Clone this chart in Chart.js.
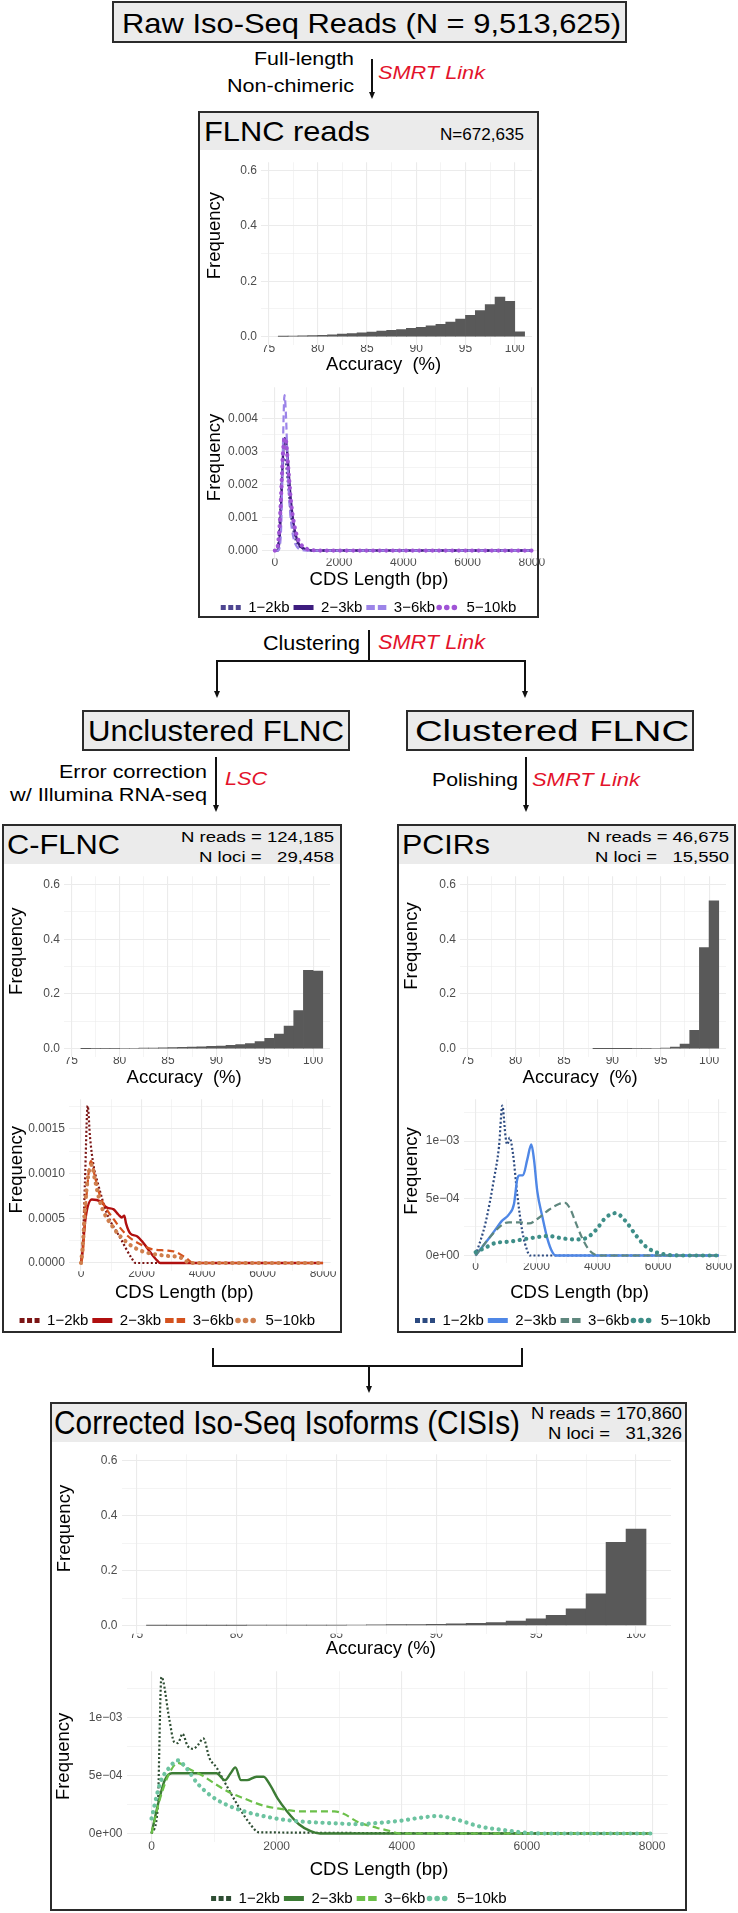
<!DOCTYPE html>
<html><head><meta charset="utf-8">
<script src="https://cdn.jsdelivr.net/npm/chart.js@4.4.1/dist/chart.umd.min.js"></script>
<style>
html,body{margin:0;padding:0;background:#fff}
body{position:relative;width:738px;height:1913px;overflow:hidden;font-family:'Liberation Sans',Arial,Helvetica,sans-serif}
.box{position:absolute;box-sizing:border-box;border:2px solid #2b2b2b;background:#fff}
.gbox{background:#ebebeb}
.strip{position:absolute;left:0;right:0;top:0;background:#ebebeb}
.t{position:absolute;white-space:pre;line-height:1;transform-origin:0 50%;color:#000}
.red{color:#e3132b;font-style:italic}
.ln{position:absolute;background:#111}
.ah{position:absolute;width:0;height:0;border-left:3.5px solid transparent;border-right:3.5px solid transparent;border-top:7px solid #111}
canvas{position:absolute}
</style></head><body>
<script>
// ---------------- DATA ----------------
const ACC_TICKS = [75, 80, 85, 90, 95, 100];
const ACC_MINOR = [77.5, 82.5, 87.5, 92.5, 97.5];
const ACC_LABELS = ['75', '80', '85', '90', '95', '100'];
const FREQ_TICKS = [0, 0.2, 0.4, 0.6];
const FREQ_MINOR = [0.1, 0.3, 0.5];
const FREQ_LABELS = ['0.0', '0.2', '0.4', '0.6'];
const CDS_TICKS = [0, 2000, 4000, 6000, 8000];
const CDS_MINOR = [1000, 3000, 5000, 7000];
const CDS_LABELS = ['0', '2000', '4000', '6000', '8000'];
const LEN_GROUPS = ['1\u22122kb', '2\u22123kb', '3\u22126kb', '5\u221210kb'];

// FLNC accuracy histogram
const FLNC_ACC_BINS = [76.5, 77.5, 78.5, 79.5, 80.5, 81.5, 82.5, 83.5, 84.5, 85.5, 86.5, 87.5, 88.5, 89.5, 90.5, 91.5, 92.5, 93.5, 94.5, 95.5, 96.5, 97.5, 98.5, 99.5, 100.5];
const FLNC_ACC_FREQ = [0.001, 0.002, 0.003, 0.004, 0.005, 0.007, 0.009, 0.011, 0.014, 0.017, 0.020, 0.023, 0.026, 0.030, 0.034, 0.039, 0.045, 0.053, 0.064, 0.077, 0.094, 0.116, 0.143, 0.128, 0.018];
// FLNC CDS density
const FLNC_LEN_X = [0, 50, 100, 150, 200, 250, 300, 350, 400, 450, 500, 600, 700, 800, 1000, 1200, 1500, 8000];
const FLNC_LEN_1_2 = [0, 0, 0.0002, 0.0009, 0.0019, 0.0026, 0.0028, 0.0026, 0.0021, 0.0016, 0.0011, 0.0005, 0.0002, 0.0001, 0.00002, 0, 0, 0];
const FLNC_LEN_2_3 = [0, 0, 0, 0.0004, 0.0015, 0.0028, 0.0034, 0.0033, 0.0028, 0.0021, 0.0015, 0.0007, 0.0003, 0.00012, 0.00003, 0, 0, 0];
const FLNC_LEN_3_6 = [0, 0, 0, 0.0001, 0.0008, 0.0031, 0.0047, 0.0040, 0.0025, 0.0015, 0.0009, 0.0003, 0.0001, 0.00003, 0, 0, 0, 0];
const FLNC_LEN_5_10 = [0, 0, 0.0002, 0.0008, 0.0018, 0.0029, 0.0034, 0.0033, 0.0027, 0.0021, 0.0015, 0.0008, 0.0004, 0.0002, 0.00005, 0.00001, 0, 0];
const FLNC_Y_TICKS = [0, 0.001, 0.002, 0.003, 0.004];
const FLNC_Y_MINOR = [0.0005, 0.0015, 0.0025, 0.0035, 0.0045];
const FLNC_Y_LABELS = ['0.000', '0.001', '0.002', '0.003', '0.004'];

// C-FLNC accuracy histogram
const CFLNC_ACC_BINS = [76.5, 77.5, 78.5, 79.5, 80.5, 81.5, 82.5, 83.5, 84.5, 85.5, 86.5, 87.5, 88.5, 89.5, 90.5, 91.5, 92.5, 93.5, 94.5, 95.5, 96.5, 97.5, 98.5, 99.5, 100.5];
const CFLNC_ACC_FREQ = [0.0008, 0.001, 0.0012, 0.0015, 0.0018, 0.002, 0.0025, 0.003, 0.0035, 0.004, 0.005, 0.006, 0.007, 0.009, 0.010, 0.0125, 0.015, 0.019, 0.026, 0.038, 0.054, 0.083, 0.139, 0.286, 0.284];
// C-FLNC CDS density
const CFLNC_1_2_X = [0, 60, 130, 220, 300, 420, 550, 850, 1300, 1680, 1800, 8000];
const CFLNC_1_2_Y = [0, 0.0002, 0.0009, 0.00176, 0.0014, 0.00108, 0.0009, 0.00056, 0.00028, 0.00005, 0, 0];
const CFLNC_2_3_X = [0, 40, 150, 360, 640, 860, 1080, 1240, 1350, 1430, 1490, 1630, 1850, 2070, 2290, 2510, 2620, 8000];
const CFLNC_2_3_Y = [0, 0.0001, 0.0005, 0.00071, 0.00069, 0.00062, 0.0006, 0.00054, 0.00051, 0.00053, 0.00044, 0.00033, 0.0003, 0.00022, 0.00012, 0.00003, 0, 0];
const CFLNC_3_6_X = [0, 60, 150, 250, 330, 450, 640, 1080, 1520, 1960, 2400, 2840, 3160, 3490, 3710, 8000];
const CFLNC_3_6_Y = [0, 0.0001, 0.0006, 0.001, 0.00114, 0.00098, 0.00074, 0.00049, 0.00031, 0.00021, 0.00015, 0.00014, 0.00012, 0.00005, 0, 0];
const CFLNC_5_10_X = [0, 60, 150, 250, 360, 450, 640, 1080, 1520, 1960, 2400, 2840, 3300, 3600, 8000];
const CFLNC_5_10_Y = [0, 0.0002, 0.0007, 0.001, 0.0011, 0.00095, 0.00067, 0.00039, 0.00023, 0.00014, 0.0001, 0.00008, 0.00006, 0, 0];
const CFLNC_Y_TICKS = [0, 0.0005, 0.001, 0.0015];
const CFLNC_Y_MINOR = [0.00025, 0.00075, 0.00125, 0.00175];
const CFLNC_Y_LABELS = ['0.0000', '0.0005', '0.0010', '0.0015'];

// PCIRs accuracy histogram
const PCIR_ACC_BINS = [88.5, 89.5, 90.5, 91.5, 92.5, 93.5, 94.5, 95.5, 96.5, 97.5, 98.5, 99.5, 100.5];
const PCIR_ACC_FREQ = [0.0004, 0.0005, 0.0006, 0.0007, 0.0009, 0.0012, 0.0018, 0.003, 0.006, 0.017, 0.067, 0.369, 0.540];
// PCIRs CDS density
const PCIR_1_2_X = [0, 329, 603, 767, 877, 986, 1041, 1118, 1227, 1370, 1534, 1699, 1775, 8000];
const PCIR_1_2_Y = [0, 0.00029, 0.00067, 0.00095, 0.00131, 0.00103, 0.00097, 0.00103, 0.00089, 0.00053, 0.00021, 0.00004, 0, 0];
const PCIR_2_3_X = [0, 438, 658, 855, 1096, 1260, 1370, 1447, 1556, 1699, 1830, 1918, 2027, 2192, 2356, 2521, 2630, 8000];
const PCIR_2_3_Y = [0, 0.00015, 0.00023, 0.0003, 0.00036, 0.00045, 0.00067, 0.0007, 0.0007, 0.00084, 0.00097, 0.00084, 0.00056, 0.00034, 0.00015, 0.00003, 0, 0];
const PCIR_3_6_X = [0, 438, 877, 1096, 1425, 1753, 2082, 2411, 2740, 2937, 3123, 3288, 3507, 3726, 3945, 4100, 8000];
const PCIR_3_6_Y = [0, 0.00015, 0.00027, 0.00029, 0.00029, 0.00028, 0.00033, 0.0004, 0.00045, 0.00046, 0.0004, 0.00029, 0.00015, 0.00005, 0.000005, 0, 0];
const PCIR_5_10_X = [0, 329, 658, 1096, 1753, 2411, 2849, 3288, 3616, 3945, 4274, 4603, 4932, 5260, 5589, 5918, 6356, 6800, 8000];
const PCIR_5_10_Y = [0.00003, 0.00007, 0.00011, 0.00012, 0.00015, 0.00017, 0.00015, 0.00014, 0.00015, 0.00022, 0.00033, 0.00037, 0.0003, 0.00018, 0.00008, 0.00003, 0.000005, 0, 0];
const SCI_Y_TICKS = [0, 0.0005, 0.001];
const SCI_Y_MINOR = [0.00025, 0.00075, 0.00125];
const SCI_Y_LABELS = ['0e+00', '5e\u221204', '1e\u221203'];

// CISIs accuracy histogram
const CISI_ACC_BINS = [76, 77, 78, 79, 80, 81, 82, 83, 84, 85, 86, 87, 88, 89, 90, 91, 92, 93, 94, 95, 96, 97, 98, 99, 100];
const CISI_ACC_FREQ = [0.0003, 0.0004, 0.0005, 0.0006, 0.0007, 0.0008, 0.001, 0.0012, 0.0014, 0.0017, 0.002, 0.0025, 0.003, 0.0035, 0.0045, 0.006, 0.008, 0.011, 0.016, 0.024, 0.037, 0.061, 0.115, 0.303, 0.351];
// CISIs CDS density
const CISI_1_2_X = [0, 98, 158, 286, 361, 421, 497, 572, 662, 737, 828, 926, 1038, 1151, 1264, 1415, 1565, 1716, 8000];
const CISI_1_2_Y = [0, 0.00021, 0.00135, 0.00098, 0.00079, 0.00078, 0.00086, 0.00076, 0.00073, 0.00076, 0.00082, 0.00065, 0.00057, 0.00046, 0.00035, 0.00021, 0.00009, 0.00001, 0];
const CISI_2_3_X = [0, 98, 211, 324, 587, 888, 1038, 1174, 1264, 1340, 1430, 1527, 1678, 1791, 1904, 2017, 2167, 2355, 2543, 2694, 8000];
const CISI_2_3_Y = [0, 0.00024, 0.00046, 0.00052, 0.00052, 0.00052, 0.00052, 0.00046, 0.00052, 0.00057, 0.00046, 0.00046, 0.00049, 0.00049, 0.00041, 0.0003, 0.00019, 0.00008, 0.00002, 0, 0];
const CISI_3_6_X = [0, 135, 286, 421, 587, 813, 1038, 1264, 1490, 1791, 2092, 2393, 2694, 2919, 3070, 3296, 3597, 3822, 3973, 8000];
const CISI_3_6_Y = [0, 0.0003, 0.00052, 0.00061, 0.00056, 0.0005, 0.00042, 0.00035, 0.0003, 0.00024, 0.00021, 0.00019, 0.00019, 0.00019, 0.00017, 0.0001, 0.00005, 0.00002, 0, 0];
const CISI_5_10_X = [0, 135, 286, 421, 549, 737, 963, 1189, 1490, 1791, 2092, 2468, 2844, 3296, 3597, 3973, 4349, 4575, 4876, 5252, 5628, 6005, 6230, 8000];
const CISI_5_10_Y = [0.00013, 0.00043, 0.00057, 0.00063, 0.00057, 0.00043, 0.00032, 0.00025, 0.00019, 0.00015, 0.00012, 0.0001, 0.00009, 0.00008, 0.00009, 0.00011, 0.00014, 0.00015, 0.00012, 0.00006, 0.00003, 0.000005, 0, 0];

// ---------------- STYLE ----------------
const FONT = "'Liberation Sans', Arial, Helvetica, sans-serif";
Chart.defaults.font.family = FONT;
const TICK_FONT = 12;
const TITLE_FONT = 18.5;
const LEG_FONT = 15, LEG_PAD = 4, LEG_KEY = 20;
const PURPLES = ['#4e4691', '#3d1c7e', '#9c84e8', '#a054d6'];
const REDS = ['#7b1515', '#b00f0f', '#d4521e', '#cf7f4e'];
const BLUES = ['#2c4a80', '#4f87e6', '#5f877e', '#3e8e88'];
const GREENS = ['#2e4d33', '#3c7c35', '#6cc04a', '#6cc3a0'];
const STY = [
  {w: 2.2, dash: [2, 2.2], cap: 'butt', lw: 5, ldash: [5, 2.5], lcap: 'butt'},
  {w: 2.4, dash: [], cap: 'butt', lw: 5, ldash: [], lcap: 'butt'},
  {w: 2.2, dash: [7, 4], cap: 'butt', lw: 5, ldash: [8.5, 3], lcap: 'butt'},
  {w: 4.2, dash: [0.1, 6.5], cap: 'round', lw: 5.5, ldash: [0.1, 7.5], lcap: 'round'}
];

// ---------------- DECORATION HELPERS ----------------
function box(x, y, w, h, stripH, gray) {
  const b = document.createElement('div');
  b.className = 'box' + (gray ? ' gbox' : '');
  Object.assign(b.style, {left: x + 'px', top: y + 'px', width: w + 'px', height: h + 'px'});
  if (stripH) { const s = document.createElement('div'); s.className = 'strip'; s.style.height = stripH + 'px'; b.appendChild(s); }
  document.body.appendChild(b);
}
function vline(x, y0, y1) {
  const d = document.createElement('div'); d.className = 'ln';
  Object.assign(d.style, {left: (x - 0.75) + 'px', top: y0 + 'px', width: '1.5px', height: (y1 - y0) + 'px'});
  document.body.appendChild(d);
}
function hline(x0, x1, y) {
  const d = document.createElement('div'); d.className = 'ln';
  Object.assign(d.style, {left: (x0 - 0.75) + 'px', top: (y - 0.75) + 'px', width: (x1 - x0 + 1.5) + 'px', height: '1.5px'});
  document.body.appendChild(d);
}
function arrow(x, y0, y1) {
  vline(x, y0, y1 - 4);
  const a = document.createElement('div'); a.className = 'ah';
  Object.assign(a.style, {left: (x - 3.5) + 'px', top: (y1 - 7) + 'px'});
  document.body.appendChild(a);
}
const texts = [];
function txt(s, x0, x1, cy, size, cls) {
  const e = document.createElement('div');
  e.className = 't' + (cls ? ' ' + cls : '');
  e.textContent = s;
  Object.assign(e.style, {fontSize: size + 'px', left: x0 + 'px', top: (cy - 0.49 * size) + 'px'});
  document.body.appendChild(e);
  texts.push([e, x1 - x0]);
}

// boxes
box(112, 1, 515, 42, 0, true);
box(198, 111, 341, 507, 37, false);
box(82, 710, 268, 41, 0, true);
box(406, 710, 288, 41, 0, true);
box(2, 824, 340, 509, 38, false);
box(397, 824, 339, 509, 38, false);
box(50, 1402, 637, 509, 38, false);

// connectors
arrow(372, 59, 99);
vline(369, 630, 661);
hline(217, 525, 661);
arrow(217, 661, 698);
arrow(525, 661, 698);
arrow(216, 757, 812);
arrow(526, 757, 812);
vline(213, 1348, 1366);
vline(522, 1348, 1366);
hline(213, 522, 1366);
arrow(369, 1366, 1393);

// texts
txt('Raw Iso-Seq Reads (N = 9,513,625)', 122, 621, 23, 28.5);
txt('Full-length', 254, 354, 58, 19);
txt('Non-chimeric', 227, 354, 85, 19);
txt('SMRT Link', 378, 485, 72, 19, 'red');
txt('FLNC reads', 204, 370, 131, 28.5);
txt('N=672,635', 440, 524, 134, 16.5);
txt('Clustering', 263, 360, 642, 21);
txt('SMRT Link', 378, 485, 642, 20.5, 'red');
txt('Unclustered FLNC', 88, 344, 730, 29.5);
txt('Clustered FLNC', 415, 689, 730, 29.5);
txt('Error correction', 59, 207, 772, 18.5);
txt('w/ Illumina RNA-seq', 10, 207, 795, 18.5);
txt('LSC', 225, 267, 779, 18.5, 'red');
txt('Polishing', 432, 518, 780, 18.5);
txt('SMRT Link', 532, 640, 780, 18.5, 'red');
txt('C-FLNC', 7, 120, 844, 27.5);
txt('N reads = 124,185', 181, 334, 837, 15.5);
txt('N loci =   29,458', 199, 334, 857, 15.5);
txt('PCIRs', 402, 490, 844, 27.5);
txt('N reads = 46,675', 587, 729, 837, 15.5);
txt('N loci =   15,550', 595, 729, 857, 15.5);
txt('Corrected Iso-Seq Isoforms (CISIs)', 54, 520, 1423, 32.5);
txt('N reads = 170,860', 531, 682, 1413, 16.5);
txt('N loci =   31,326', 548, 682, 1433, 16.5);
for (const [e, w] of texts) { const nw = e.getBoundingClientRect().width; e.style.transform = 'scaleX(' + (w / nw) + ')'; }

// ---------------- CHARTS ----------------
const pad = n => ' '.repeat(n);
function plot(s) {
  const [cx, cy, cw, ch] = s.canvas, [L, T, R, B] = s.area;
  const cv = document.createElement('canvas');
  cv.width = cw; cv.height = ch;
  Object.assign(cv.style, {left: cx + 'px', top: cy + 'px', width: cw + 'px', height: ch + 'px'});
  document.body.appendChild(cv);
  const legH = s.legend ? LEG_FONT + LEG_PAD + 10 : 0;
  const xAxisBottom = ch - legH;
  const axis = (r, maj, mnr, lab, p) => ({
    type: 'linear', min: r[0], max: r[1], offset: false,
    border: {display: false},
    grid: {color: '#ebebeb', drawTicks: false, offset: false,
      lineWidth: c => (c.tick && maj.indexOf(c.tick.value) >= 0) ? 1.1 : 0.55},
    afterBuildTicks: sc => { sc.ticks = maj.concat(mnr).sort((a, b) => a - b).map(v => ({value: v})); },
    ticks: {autoSkip: false, maxRotation: 0, minRotation: 0, padding: p, color: '#4d4d4d',
      font: {family: FONT, size: TICK_FONT},
      callback: v => { const i = maj.indexOf(v); return i >= 0 ? lab[i] : ''; }}
  });
  const xs = axis(s.xr, s.xt, s.xm, s.xl, s.xPad);
  xs.title = {display: true, text: s.xTitle + pad(s.xShift), color: '#000', font: {family: FONT, size: TITLE_FONT},
    padding: {top: 0, bottom: xAxisBottom - (s.xTitleY - cy) - TITLE_FONT * 1.2 / 2}};
  xs.afterFit = sc => { sc.height = ch - (sc.chart.legend ? sc.chart.legend.height : 0) - (B - cy); };
  const ys = axis(s.yr, s.yt, s.ym, s.yl, 4);
  ys.title = {display: true, text: pad(s.yShift) + 'Frequency', color: '#000', font: {family: FONT, size: TITLE_FONT},
    padding: {top: (s.yTitleX - cx) - TITLE_FONT * 1.2 / 2, bottom: 0}};
  ys.afterFit = sc => { sc.width = L - cx; };
  new Chart(cv, {
    type: s.type,
    data: {datasets: s.datasets},
    options: {
      responsive: false, animation: false, devicePixelRatio: 1, events: [],
      layout: {padding: {left: 0, top: T - cy, right: cx + cw - R, bottom: 0}},
      scales: {x: xs, y: ys},
      plugins: {
        tooltip: {enabled: false},
        legend: s.legend ? {
          display: true, position: 'bottom',
          labels: {usePointStyle: true, pointStyleWidth: LEG_KEY, boxHeight: 6, padding: LEG_PAD, color: '#000',
            font: {family: FONT, size: LEG_FONT},
            generateLabels: c => c.data.datasets.map((d, i) => ({
              text: d.label, fillStyle: d.borderColor, strokeStyle: d.borderColor, fontColor: '#000',
              lineWidth: STY[i].lw, lineDash: STY[i].ldash, lineCap: STY[i].lcap,
              pointStyle: 'line', hidden: false, datasetIndex: i}))}
        } : {display: false}
      }
    }
  });
}
function histSet(bins, freq) {
  return [{type: 'bar', data: bins.map((x, i) => ({x: x, y: freq[i]})), backgroundColor: '#595959',
    borderWidth: 0, barPercentage: 1, categoryPercentage: 1}];
}
function densSets(series, colors) {
  return series.map((p, i) => ({
    type: 'line', label: LEN_GROUPS[i], order: 3 - i,
    data: p[0].map((x, j) => ({x: x, y: p[1][j]})),
    borderColor: colors[i], backgroundColor: colors[i], borderWidth: STY[i].w, borderDash: STY[i].dash,
    borderCapStyle: STY[i].cap, pointRadius: 0, fill: false, cubicInterpolationMode: 'monotone'
  }));
}
const HIST_AX = {xt: ACC_TICKS, xm: ACC_MINOR, xl: ACC_LABELS, yt: FREQ_TICKS, ym: FREQ_MINOR, yl: FREQ_LABELS, xr: [74.25, 101.75]};
const DENS_AX = {xt: CDS_TICKS, xm: CDS_MINOR, xl: CDS_LABELS};

// FLNC
plot(Object.assign({type: 'bar', canvas: [200, 151, 352, 225], area: [261, 152, 532, 345], yr: [-0.03, 0.63],
  yTitleX: 215, xTitleY: 365, xTitle: 'Accuracy  (%)', xPad: -4, xShift: 5, yShift: 7, legend: false,
  datasets: histSet(FLNC_ACC_BINS, FLNC_ACC_FREQ)}, HIST_AX));
plot(Object.assign({type: 'line', canvas: [200, 376, 357, 249], area: [262, 377, 537, 558.5],
  xr: [-400, 8160], yr: [-0.00024, 0.00494], yt: FLNC_Y_TICKS, ym: FLNC_Y_MINOR, yl: FLNC_Y_LABELS,
  yTitleX: 215, xTitleY: 580, xTitle: 'CDS Length (bp)', xPad: -3, xShift: 8, yShift: 6, legend: true,
  datasets: densSets([[FLNC_LEN_X, FLNC_LEN_1_2], [FLNC_LEN_X, FLNC_LEN_2_3], [FLNC_LEN_X, FLNC_LEN_3_6], [FLNC_LEN_X, FLNC_LEN_5_10]], PURPLES)}, DENS_AX));

// C-FLNC
plot(Object.assign({type: 'bar', canvas: [4, 865, 346, 223], area: [64, 865, 330, 1057], yr: [-0.03, 0.63],
  yTitleX: 17, xTitleY: 1078, xTitle: 'Accuracy  (%)', xPad: -4, xShift: 5, yShift: 6, legend: false,
  datasets: histSet(CFLNC_ACC_BINS, CFLNC_ACC_FREQ)}, HIST_AX));
plot(Object.assign({type: 'line', canvas: [4, 1088, 347, 250], area: [68.9, 1092, 330.6, 1271.2],
  xr: [-400, 8250], yr: [-0.0000917, 0.001833], yt: CFLNC_Y_TICKS, ym: CFLNC_Y_MINOR, yl: CFLNC_Y_LABELS,
  yTitleX: 17, xTitleY: 1293, xTitle: 'CDS Length (bp)', xPad: -5, xShift: 6, yShift: 6, legend: true,
  datasets: densSets([[CFLNC_1_2_X, CFLNC_1_2_Y], [CFLNC_2_3_X, CFLNC_2_3_Y], [CFLNC_3_6_X, CFLNC_3_6_Y], [CFLNC_5_10_X, CFLNC_5_10_Y]], REDS)}, DENS_AX));

// PCIRs
plot(Object.assign({type: 'bar', canvas: [399, 865, 347, 223], area: [460, 865, 726, 1057], yr: [-0.03, 0.63],
  yTitleX: 412, xTitleY: 1078, xTitle: 'Accuracy  (%)', xPad: -4, xShift: 5, yShift: 8, legend: false,
  datasets: histSet(PCIR_ACC_BINS, PCIR_ACC_FREQ)}, HIST_AX));
plot(Object.assign({type: 'line', canvas: [399, 1088, 347, 250], area: [463.5, 1088.3, 726.5, 1263.3],
  xr: [-400, 8250], yr: [-0.0000683, 0.001366], yt: SCI_Y_TICKS, ym: SCI_Y_MINOR, yl: SCI_Y_LABELS,
  yTitleX: 412, xTitleY: 1293, xTitle: 'CDS Length (bp)', xPad: -4, xShift: 6, yShift: 4, legend: true,
  datasets: densSets([[PCIR_1_2_X, PCIR_1_2_Y], [PCIR_2_3_X, PCIR_2_3_Y], [PCIR_3_6_X, PCIR_3_6_Y], [PCIR_5_10_X, PCIR_5_10_Y]], BLUES)}, DENS_AX));

// CISIs
plot(Object.assign({type: 'bar', canvas: [52, 1443, 639, 217], area: [121.5, 1443, 671, 1633.75], yr: [-0.03, 0.624],
  yTitleX: 65, xTitleY: 1649, xTitle: 'Accuracy (%)', xPad: -6, xShift: 6, yShift: 6, legend: false,
  datasets: histSet(CISI_ACC_BINS, CISI_ACC_FREQ)}, HIST_AX));
plot(Object.assign({type: 'line', canvas: [50, 1660, 638, 256], area: [126.5, 1661.5, 667.7, 1841.6],
  xr: [-400, 8250], yr: [-0.00007, 0.0014], yt: SCI_Y_TICKS, ym: SCI_Y_MINOR, yl: SCI_Y_LABELS,
  yTitleX: 64, xTitleY: 1870, xTitle: 'CDS Length (bp)', xPad: -2, xShift: 7, yShift: 0, legend: true,
  datasets: densSets([[CISI_1_2_X, CISI_1_2_Y], [CISI_2_3_X, CISI_2_3_Y], [CISI_3_6_X, CISI_3_6_Y], [CISI_5_10_X, CISI_5_10_Y]], GREENS)}, DENS_AX));
</script>
</body></html>
